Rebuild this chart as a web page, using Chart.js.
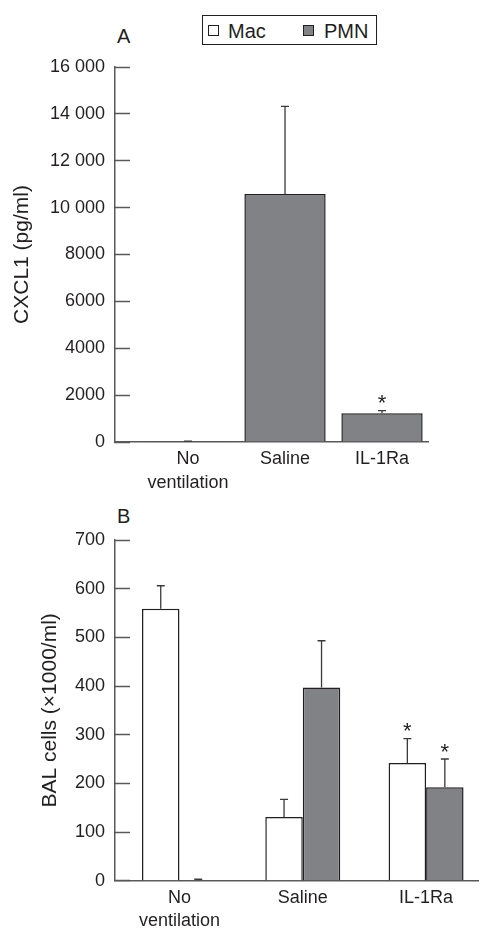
<!DOCTYPE html>
<html>
<head>
<meta charset="utf-8">
<script src="https://cdn.jsdelivr.net/npm/chart.js@4/dist/chart.umd.min.js"></script>
<style>
    body { margin: 0; background: #fff; width: 480px; height: 928px; position: relative; overflow: hidden;
           font-family: 'Liberation Sans', Arial, sans-serif; color: #231f20; }
    canvas { position: absolute; left: 0; }
    #chartA { top: 0; }
    #chartB { top: 500px; }
    .panel { position: absolute; left: 117px; font-size: 20px; line-height: 20px; }
    #legend { position: absolute; left: 202px; top: 15px; width: 173px; height: 28px; border: 1.5px solid #231f20; }
    #legend .sw { position: absolute; top: 8.5px; width: 9px; height: 9px; border: 1px solid #231f20; }
    #legend .lb { position: absolute; top: 4.5px; font-size: 20px; line-height: 20px; }
</style>
</head>
<body>
<div class="panel" style="top:26px">A</div>
<div class="panel" style="top:506px">B</div>
<div id="legend">
    <span class="sw" style="left:5px;background:#fff"></span><span class="lb" style="left:25px">Mac</span>
    <span class="sw" style="left:100px;background:#808285"></span><span class="lb" style="left:121px">PMN</span>
</div>
<canvas id="chartA" width="480" height="500"></canvas>
<canvas id="chartB" width="480" height="428"></canvas>
<script>
// categories and values
const categories = ['No ventilation', 'Saline', 'IL-1Ra'];
const categoryLines = [['No', 'ventilation'], ['Saline'], ['IL-1Ra']];

const cxcl1 = [15, 10580, 1225];
const cxcl1Err = [20, 3740, 112];
const cxcl1Sig = [false, false, true];

const macCells = [559, 131, 242];
const macErr = [47, 36, 50];
const macSig = [false, false, true];

const pmnCells = [1, 397, 192];
const pmnErr = [2, 96, 58];
const pmnSig = [false, false, true];

const cxclTicks = { min: 0, max: 16000, step: 2000 };
const balTicks = { min: 0, max: 700, step: 100 };

const ink = '#231f20';
const axisGrey = '#58595b';
const barGrey = '#808285';

Chart.defaults.font.family = "'Liberation Sans', Arial, sans-serif";
Chart.defaults.color = ink;
Chart.defaults.animation = false;

const errorBars = {
    id: 'errorBars',
    afterDatasetsDraw(chart) {
        const { ctx } = chart;
        const y = chart.scales.y;
        ctx.save();
        chart.data.datasets.forEach((ds, di) => {
            const meta = chart.getDatasetMeta(di);
            meta.data.forEach((bar, i) => {
                const top = y.getPixelForValue(ds.data[i].y + ds.errors[i]);
                ctx.strokeStyle = '#3a3a3c';
                ctx.lineWidth = 1.3;
                ctx.beginPath();
                ctx.moveTo(bar.x, bar.y);
                ctx.lineTo(bar.x, top);
                ctx.moveTo(bar.x - 4, top);
                ctx.lineTo(bar.x + 4, top);
                ctx.stroke();
                if (ds.signif[i]) {
                    ctx.fillStyle = ink;
                    ctx.font = "22px 'Liberation Sans', Arial, sans-serif";
                    ctx.textAlign = 'center';
                    ctx.textBaseline = 'alphabetic';
                    ctx.fillText('*', bar.x, top - 13 + 12.5);
                }
            });
        });
        ctx.restore();
    }
};

function fmtThousands(v) {
    return v >= 10000 ? String(v).replace(/(\d)(?=(\d{3})+$)/g, '$1 ') : String(v);
}

function makeChart(id, datasets, opt) {
    return new Chart(document.getElementById(id), {
        type: 'bar',
        data: { datasets },
        options: {
            responsive: false,
            layout: { padding: opt.padding },
            plugins: { legend: { display: false }, tooltip: { enabled: false } },
            datasets: { bar: { categoryPercentage: opt.catPct, barPercentage: 1, borderWidth: 1.5,
                               borderColor: ink, borderSkipped: 'bottom', grouped: true } },
            scales: {
                x: {
                    type: 'linear',
                    offset: false,
                    min: opt.xMin,
                    max: opt.xMax,
                    afterBuildTicks: s => { s.ticks = categories.map((c, i) => ({ value: i })); },
                    afterFit: s => { s.height = opt.xHeight; },
                    grid: { display: false, drawTicks: false },
                    border: { color: axisGrey, width: 1.5 },
                    ticks: {
                        autoSkip: false, maxRotation: 0, padding: 6,
                        font: { size: 18, lineHeight: 1.28 }, color: ink,
                        callback: v => categoryLines[v]
                    }
                },
                y: {
                    min: opt.yTicks.min,
                    max: opt.yTicks.max,
                    afterFit: s => { s.width = opt.yWidth; },
                    grid: { drawOnChartArea: false, drawTicks: true, tickLength: -15, tickColor: axisGrey, tickWidth: 1.5 },
                    border: { color: axisGrey, width: 1.5 },
                    ticks: { stepSize: opt.yTicks.step, padding: 25, font: { size: 18 }, color: ink, callback: fmtThousands },
                    title: { display: true, text: opt.yTitle, font: { size: 21 }, color: ink, padding: 0 }
                }
            }
        },
        plugins: [errorBars]
    });
}

makeChart('chartA', [{
    label: 'CXCL1',
    data: cxcl1.map((v, i) => ({ x: i, y: v })),
    errors: cxcl1Err,
    signif: cxcl1Sig,
    backgroundColor: barGrey
}], {
    padding: { left: 10, right: 52, top: 67, bottom: 0 },
    xMin: -0.7526, xMax: 2.474, xHeight: 58, yWidth: 105, catPct: 0.838,
    yTicks: cxclTicks, yTitle: 'CXCL1 (pg/ml)'
});

makeChart('chartB', [{
    label: 'Mac',
    data: macCells.map((v, i) => ({ x: i, y: v })),
    errors: macErr,
    signif: macSig,
    backgroundColor: '#ffffff'
}, {
    label: 'PMN',
    data: pmnCells.map((v, i) => ({ x: i, y: v })),
    errors: pmnErr,
    signif: pmnSig,
    backgroundColor: barGrey
}], {
    padding: { left: 38, right: 2, top: 40, bottom: 0 },
    xMin: -0.523, xMax: 2.421, xHeight: 47.3, yWidth: 77, catPct: 0.608,
    yTicks: balTicks, yTitle: 'BAL cells (\u00d71000/ml)'
});
</script>
</body>
</html>
